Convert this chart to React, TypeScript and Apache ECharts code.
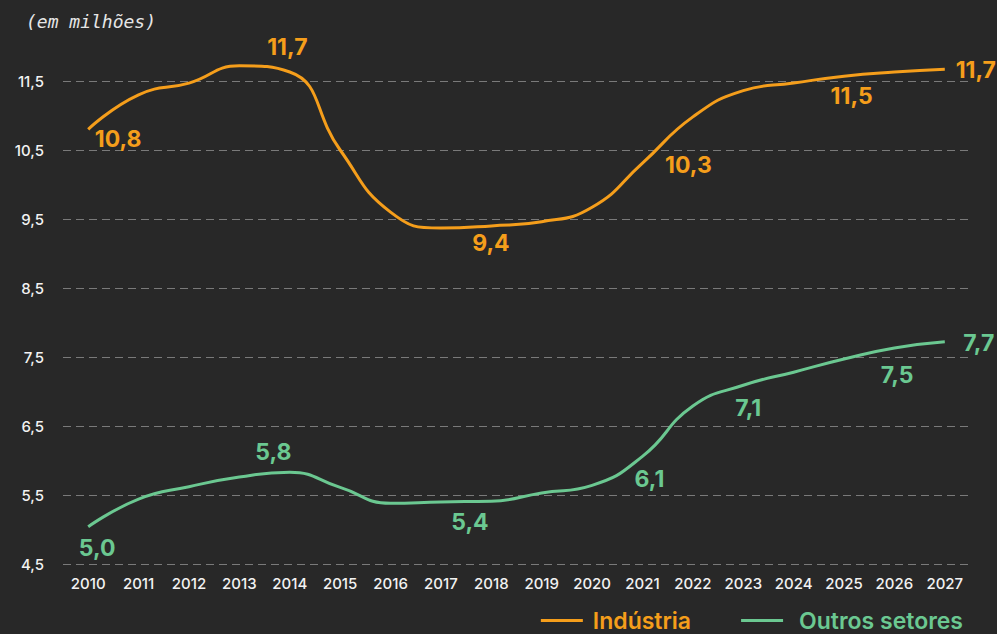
import React, { useEffect, useRef } from "react";
import * as echarts from "echarts";

const years = ["2010","2011","2012","2013","2014","2015","2016","2017","2018","2019","2020","2021","2022","2023","2024","2025","2026","2027"];
const industria = [10.8, 11.3, 11.47, 11.72, 11.63, 10.5, 9.6, 9.37, 9.4, 9.46, 9.67, 10.31, 10.98, 11.36, 11.47, 11.57, 11.63, 11.67];
const outros = [5.04, 5.44, 5.62, 5.76, 5.83, 5.61, 5.38, 5.4, 5.41, 5.53, 5.64, 6.06, 6.79, 7.09, 7.28, 7.47, 7.63, 7.72];
const yTicks = [4.5, 5.5, 6.5, 7.5, 8.5, 9.5, 10.5, 11.5];

const ORANGE = "#F59E1B";
const GREEN = "#6BC891";
const BG = "#282828";

// label offsets (style): index -> [dx, dy]
const industriaLabelOffsets: Record<number, [number, number]> = {
  0: [30, 10], 3: [48, -19], 7: [50, 15], 11: [46, 2], 14: [58, 13], 17: [31, 1],
};
const outrosLabelOffsets: Record<number, [number, number]> = {
  0: [9, 21], 3: [34, -25], 7: [29, 20], 11: [7, 23], 13: [5, 23], 15: [53, 16], 17: [34, 1],
};

const fmt = (v: number) => v.toFixed(1).replace(".", ",");

function buildData(values: number[], offsets: Record<number, [number, number]>, color: string) {
  return values.map((v, i) => {
    const off = offsets[i];
    if (!off) return { value: v };
    return {
      value: v,
      label: {
        show: true,
        position: "inside",
        offset: off,
        formatter: (p: any) => fmt(p.value),
        color,
        fontFamily: "Inter",
        fontWeight: 700,
        fontSize: 23,
        align: "center",
        verticalAlign: "middle",
      },
    };
  });
}

export default function App() {
  const ref = useRef<HTMLDivElement>(null);
  useEffect(() => {
    if (!ref.current) return;
    const chart = echarts.init(ref.current, undefined, { renderer: "svg" });
    chart.setOption({
      animation: false,
      backgroundColor: BG,
      grid: { left: 63, right: 27, top: 81, bottom: 70, containLabel: false },
      title: {
        text: "(em milhões)",
        left: 21,
        top: 7,
        textStyle: {
          color: "#e6e6e6",
          fontFamily: "DejaVu Sans Mono",
          fontStyle: "italic",
          fontWeight: "normal",
          fontSize: 18,
        },
      },
      legend: {
        right: 29,
        top: 604,
        itemWidth: 42,
        itemHeight: 3,
        itemGap: 50,
        icon: "rect",
        data: [
          { name: "Indústria", textStyle: { color: ORANGE, padding: [0, 0, 0, 5] } },
          { name: "Outros setores", textStyle: { color: GREEN, padding: [0, 0, 0, 11] } },
        ],
        textStyle: { fontFamily: "Inter", fontWeight: 600, fontSize: 23, lineHeight: 23 },
      },
      xAxis: {
        type: "category",
        data: years,
        boundaryGap: true,
        axisLine: { show: false },
        axisTick: { show: false },
        axisLabel: { color: "#f2f2f2", fontFamily: "Inter", fontSize: 15, fontWeight: 500, margin: 12 },
      },
      yAxis: {
        type: "value",
        min: yTicks[0],
        max: yTicks[yTicks.length - 1],
        interval: 1,
        axisLine: { show: false },
        axisTick: { show: false },
        axisLabel: {
          color: "#f2f2f2",
          fontFamily: "Inter",
          fontSize: 15,
          fontWeight: 500,
          margin: 19,
          formatter: (v: number) => fmt(v),
        },
        splitLine: { lineStyle: { color: "#7a7a7a", type: [8, 5], width: 1 } },
      },
      series: [
        {
          name: "Indústria",
          type: "line",
          data: buildData(industria, industriaLabelOffsets, ORANGE),
          smooth: 0.5,
          clip: false,
          symbol: "circle",
          symbolSize: 0,
          showSymbol: true,
          color: ORANGE,
          lineStyle: { color: ORANGE, width: 3 },
          label: { show: false },
        },
        {
          name: "Outros setores",
          type: "line",
          data: buildData(outros, outrosLabelOffsets, GREEN),
          smooth: 0.5,
          clip: false,
          symbol: "circle",
          symbolSize: 0,
          showSymbol: true,
          color: GREEN,
          lineStyle: { color: GREEN, width: 3 },
          label: { show: false },
        },
      ],
    });
    return () => chart.dispose();
  }, []);
  return (
    <div
      ref={ref}
      style={{ position: "fixed", left: 0, top: 0, width: 997, height: 634, background: BG }}
    />
  );
}
